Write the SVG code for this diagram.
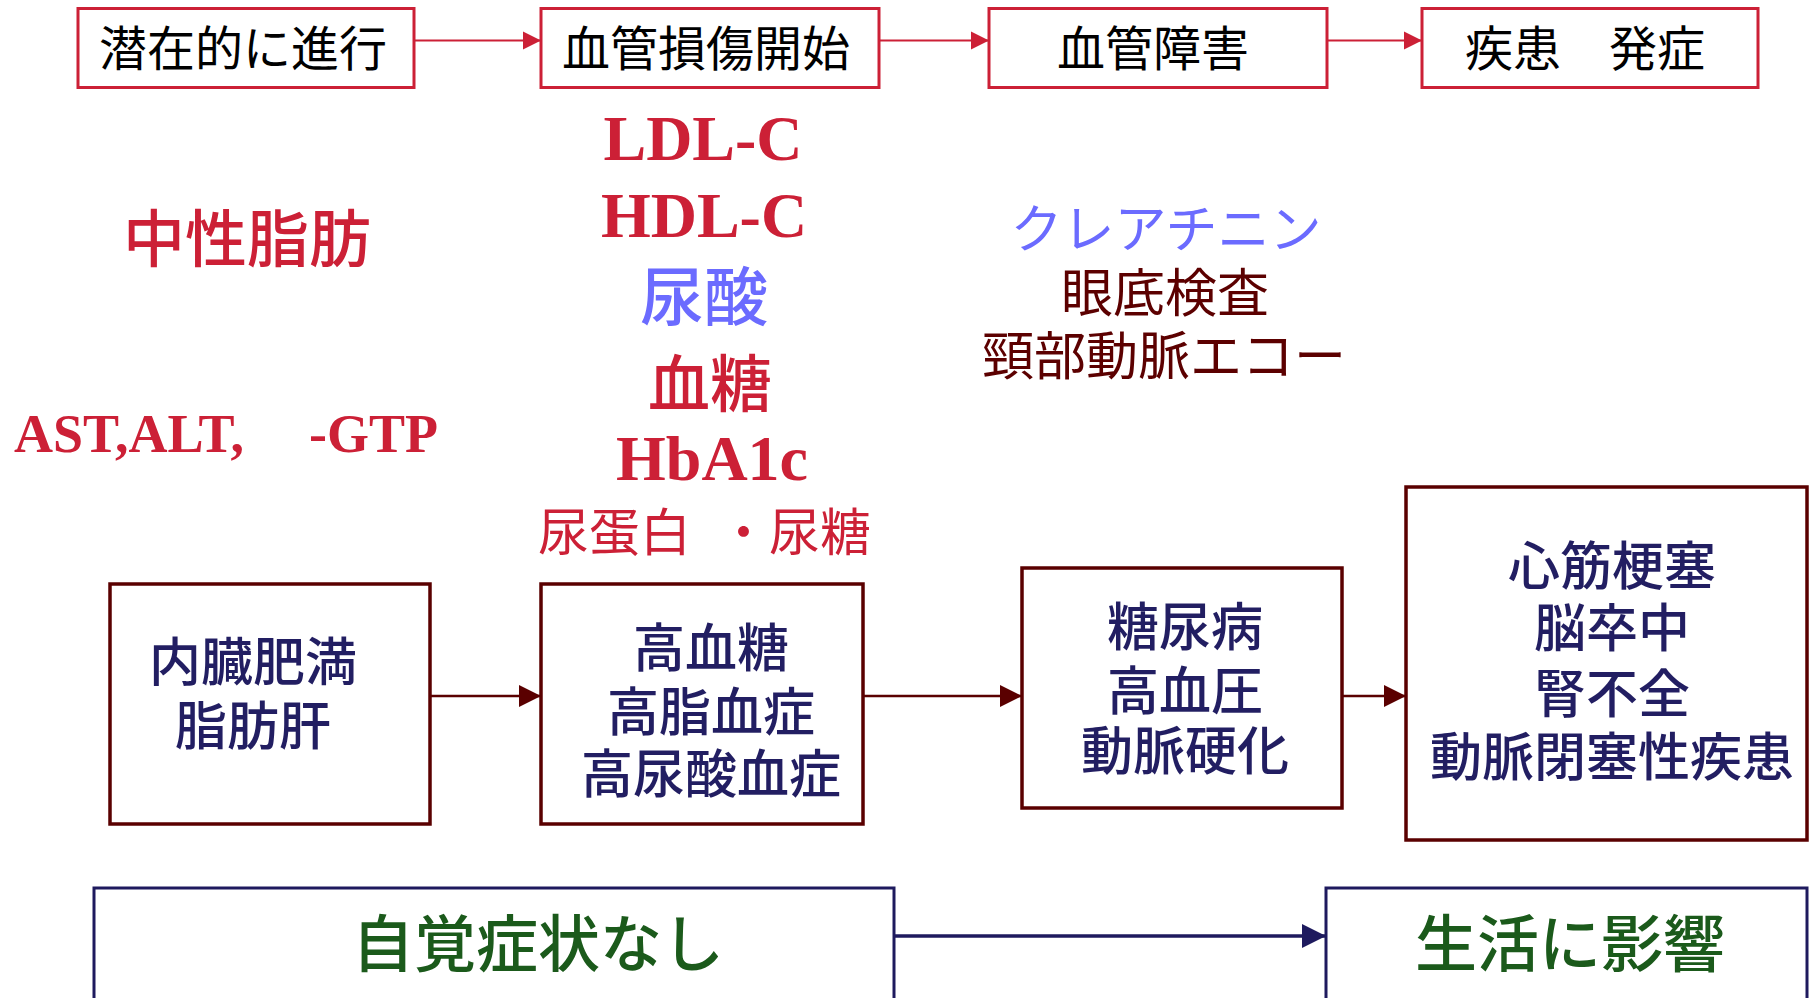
<svg xmlns="http://www.w3.org/2000/svg" width="1814" height="998" viewBox="0 0 1814 998">
<style>
.jp{font-family:"Noto Sans CJK JP","Noto Sans",sans-serif}
.sr{font-family:"Liberation Serif","Times New Roman",serif;font-weight:bold}
.top rect{fill:#fff;stroke:#CC2036;stroke-width:3}
.mid rect{fill:#fff;stroke:#5A0000;stroke-width:3.5}
.bot rect{fill:#fff;stroke:#1E1A5E;stroke-width:3}
.tt{font-size:48px;fill:#000;text-anchor:middle}
.mt{font-size:52px;fill:#221E62;text-anchor:middle;font-weight:500}
.bt{font-size:62px;fill:#1B5A1B;text-anchor:middle;font-weight:500}
.red{fill:#CC2036}
.blue{fill:#6B6BFF}
.dred{fill:#5C0000}
</style>
<defs>
<marker id="aR" markerUnits="userSpaceOnUse" markerWidth="20" markerHeight="20" refX="18" refY="10" orient="auto"><path d="M0,1 L18,10 L0,19 Z" fill="#CC2036"/></marker>
<marker id="aD" markerUnits="userSpaceOnUse" markerWidth="24" markerHeight="24" refX="22" refY="12" orient="auto"><path d="M0,1 L22,12 L0,23 Z" fill="#5A0000"/></marker>
<marker id="aN" markerUnits="userSpaceOnUse" markerWidth="26" markerHeight="26" refX="24" refY="13" orient="auto"><path d="M0,1 L24,13 L0,25 Z" fill="#1E1A5E"/></marker>
</defs>

<g id="connectors" fill="none">
<line x1="414" y1="40.5" x2="541" y2="40.5" stroke="#CC2036" stroke-width="2" marker-end="url(#aR)"/>
<line x1="879" y1="40.5" x2="989" y2="40.5" stroke="#CC2036" stroke-width="2" marker-end="url(#aR)"/>
<line x1="1327" y1="40.5" x2="1422" y2="40.5" stroke="#CC2036" stroke-width="2" marker-end="url(#aR)"/>
<line x1="430" y1="696" x2="541" y2="696" stroke="#5A0000" stroke-width="2.5" marker-end="url(#aD)"/>
<line x1="863" y1="696" x2="1022" y2="696" stroke="#5A0000" stroke-width="2.5" marker-end="url(#aD)"/>
<line x1="1342" y1="696" x2="1406" y2="696" stroke="#5A0000" stroke-width="2.5" marker-end="url(#aD)"/>
<line x1="894" y1="936" x2="1326" y2="936" stroke="#1E1A5E" stroke-width="3.5" marker-end="url(#aN)"/>
</g>

<g id="n1" class="top"><rect x="78" y="8.5" width="336" height="79"/><text class="jp tt" x="243" y="66">潜在的に進行</text></g>
<g id="n2" class="top"><rect x="541" y="8.5" width="338" height="79"/><text class="jp tt" x="706" y="66">血管損傷開始</text></g>
<g id="n3" class="top"><rect x="989" y="8.5" width="338" height="79"/><text class="jp tt" x="1153" y="66">血管障害</text></g>
<g id="n4" class="top"><rect x="1422" y="8.5" width="336" height="79"/><text class="jp tt" x="1585" y="66">疾患　発症</text></g>

<g id="labels">
<text class="jp red" x="247" y="262" font-size="62" text-anchor="middle" font-weight="500">中性脂肪</text>
<text class="sr red" x="14" y="452" font-size="54">AST,ALT,<tspan x="309">-GTP</tspan></text>
<text class="sr red" x="703" y="160" font-size="64" text-anchor="middle">LDL-C</text>
<text class="sr red" x="704" y="237" font-size="64" text-anchor="middle">HDL-C</text>
<text class="jp blue" x="704" y="320" font-size="64" text-anchor="middle" font-weight="500">尿酸</text>
<text class="jp red" x="710" y="407" font-size="62" text-anchor="middle" font-weight="500">血糖</text>
<text class="sr red" x="712" y="480" font-size="64" text-anchor="middle">HbA1c</text>
<text class="jp red" x="538" y="551" font-size="51">尿蛋白<tspan x="718">・尿糖</tspan></text>
<text class="jp blue" x="1166" y="248" font-size="52" text-anchor="middle">クレアチニン</text>
<text class="jp dred" x="1165" y="312" font-size="52" text-anchor="middle">眼底検査</text>
<text class="jp dred" x="1164" y="375" font-size="52" text-anchor="middle">頸部動脈エコー</text>
</g>

<g id="m1" class="mid"><rect x="110" y="584" width="320" height="240"/>
<text class="jp mt" x="253" y="681">内臓肥満</text><text class="jp mt" x="253" y="745">脂肪肝</text></g>
<g id="m2" class="mid"><rect x="541" y="584" width="322" height="240"/>
<text class="jp mt" x="711" y="667">高血糖</text><text class="jp mt" x="711" y="731">高脂血症</text><text class="jp mt" x="711" y="793">高尿酸血症</text></g>
<g id="m3" class="mid"><rect x="1022" y="568" width="320" height="240"/>
<text class="jp mt" x="1185" y="646">糖尿病</text><text class="jp mt" x="1185" y="710">高血圧</text><text class="jp mt" x="1185" y="770">動脈硬化</text></g>
<g id="m4" class="mid"><rect x="1406" y="487" width="401" height="353"/>
<text class="jp mt" x="1612" y="585">心筋梗塞</text><text class="jp mt" x="1612" y="647">脳卒中</text><text class="jp mt" x="1612" y="713">腎不全</text><text class="jp mt" x="1612" y="776">動脈閉塞性疾患</text></g>

<g id="b1" class="bot"><rect x="94" y="888" width="800" height="130"/><text class="jp bt" x="538" y="967">自覚症状なし</text></g>
<g id="b2" class="bot"><rect x="1326" y="888" width="481" height="130"/><text class="jp bt" x="1570" y="967">生活に影響</text></g>
</svg>
